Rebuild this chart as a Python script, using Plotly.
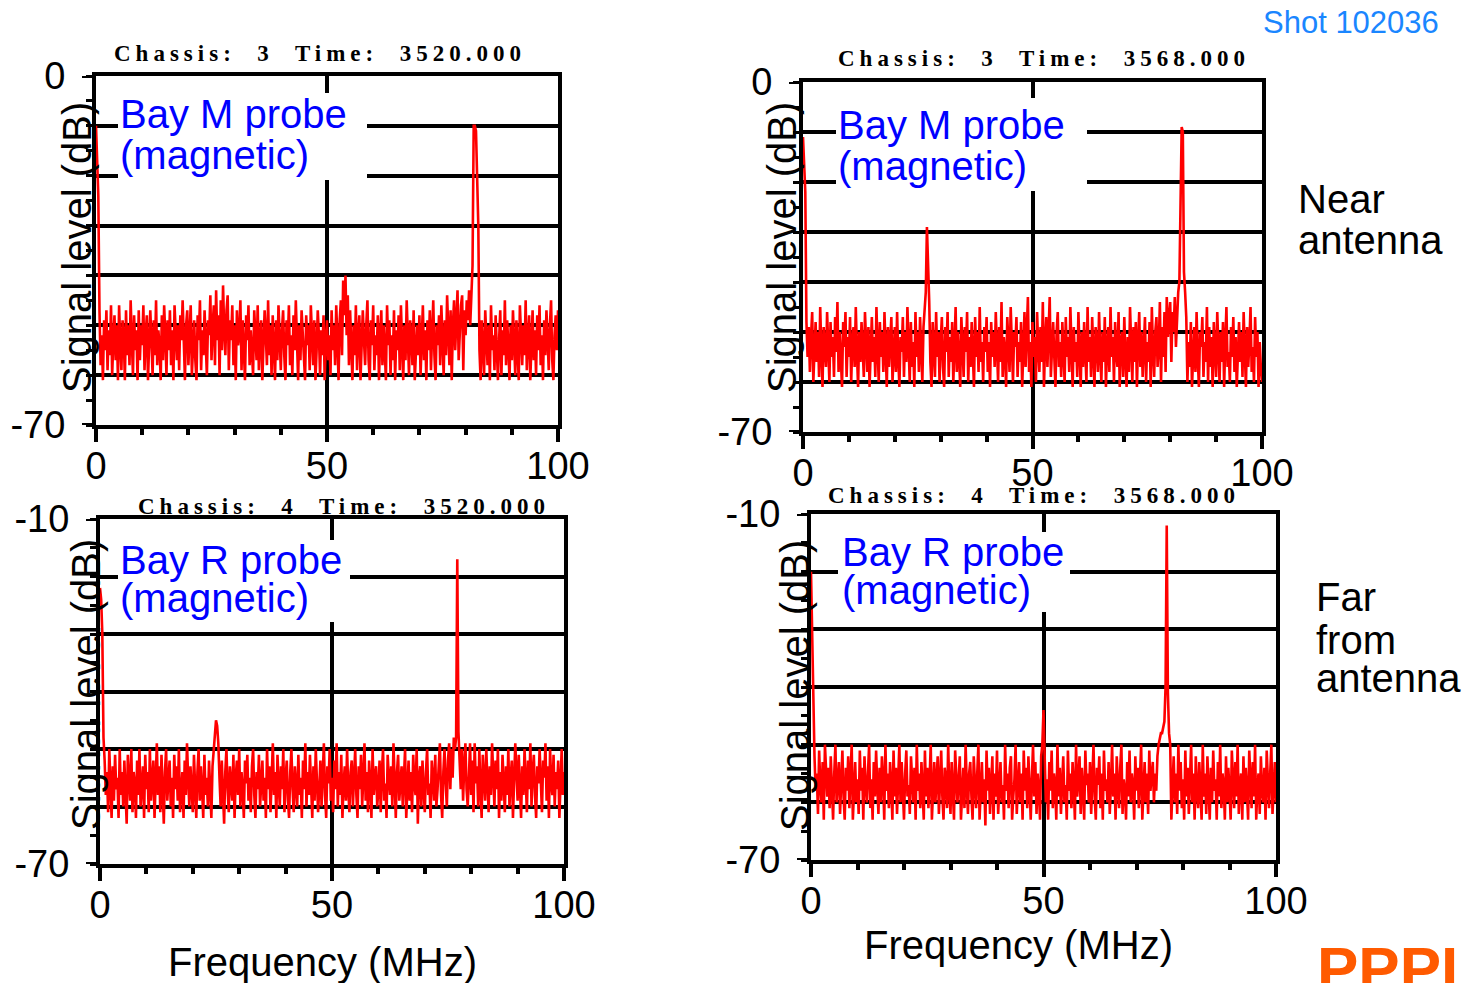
import plotly.graph_objects as go

W, H = 1467, 983

# ---------------- data ----------------
# Spectra sampled every 0.25 MHz from 0 to 100 MHz (401 points each), in dB.

# Chassis 3, time 3520 (Bay M probe)
bayM_3520_db = [
    -10, -18, -24, -47, -58, -52, -61, -49, -55, -47, -59, -51, -56, -46, -60, -53, -48, -57, -50, -61,
    -46, -54, -59, -49, -52, -61, -47, -56, -50, -58, -45, -53, -60, -48, -55, -51, -61, -47, -57, -50,
    -54, -46, -59, -52, -48, -61, -55, -47, -53, -60, -49, -56, -45, -58, -51, -54, -61, -48, -57, -46,
    -52, -60, -49, -55, -47, -58, -51, -61, -46, -54, -57, -50, -59, -48, -53, -45, -56, -61, -50, -47,
    -58, -52, -46, -60, -54, -49, -57, -61, -48, -53, -45, -59, -51, -56, -47, -55, -60, -49, -52, -44,
    -57, -50, -46, -58, -43, -53, -48, -60, -45, -55, -42, -51, -56, -47, -44, -59, -49, -53, -46, -58,
    -50, -61, -47, -54, -52, -45, -59, -49, -56, -61, -48, -53, -46, -58, -51, -55, -60, -47, -52, -57,
    -46, -59, -53, -49, -61, -55, -47, -52, -58, -45, -56, -50, -60, -48, -54, -61, -49, -57, -46, -53,
    -59, -51, -47, -56, -61, -49, -54, -46, -58, -52, -60, -48, -55, -45, -53, -61, -50, -57, -47, -52,
    -56, -61, -48, -54, -50, -59, -46, -53, -58, -49, -61, -55, -47, -52, -60, -51, -56, -48, -61, -53,
    -49, -57, -52, -60, -47, -55, -50, -58, -46, -53, -61, -49, -45, -56, -41, -48, -40, -52, -44, -58,
    -47, -54, -61, -50, -56, -46, -59, -52, -48, -61, -55, -47, -53, -58, -50, -45, -57, -61, -49, -54,
    -46, -59, -52, -56, -48, -61, -53, -47, -58, -50, -55, -61, -46, -54, -49, -60, -52, -57, -47, -61,
    -51, -55, -48, -59, -46, -53, -61, -50, -57, -45, -54, -60, -49, -52, -58, -47, -61, -55, -50, -56,
    -48, -60, -53, -46, -57, -51, -61, -49, -55, -47, -59, -52, -45, -56, -61, -50, -54, -48, -58, -46,
    -53, -60, -49, -56, -44, -52, -58, -47, -61, -50, -45, -55, -48, -43, -57, -51, -46, -44, -59, -47,
    -52, -45, -49, -43, -50, -44, -38, -10, -10, -11, -20, -30, -55, -61, -49, -56, -60, -47, -53, -58,
    -50, -61, -46, -55, -52, -59, -48, -57, -61, -53, -47, -60, -51, -56, -45, -58, -49, -54, -61, -50,
    -57, -47, -53, -60, -49, -55, -61, -46, -52, -58, -50, -56, -45, -59, -53, -48, -61, -54, -47, -57,
    -51, -60, -48, -55, -46, -58, -52, -61, -49, -56, -47, -53, -59, -50, -45, -57, -61, -52, -48, -55,
    -47,
]

# Chassis 3, time 3568 (Bay M probe)
bayM_3568_db = [
    -11, -18, -22, -48, -55, -49, -58, -51, -46, -60, -53, -48, -56, -50, -59, -45, -54, -61, -49, -52,
    -57, -46, -53, -60, -48, -55, -51, -59, -47, -54, -44, -58, -50, -56, -61, -48, -53, -46, -59, -51,
    -55, -47, -60, -52, -49, -57, -45, -54, -61, -50, -56, -48, -53, -59, -46, -52, -58, -49, -61, -54,
    -47, -56, -51, -59, -45, -53, -60, -48, -55, -50, -58, -46, -54, -61, -49, -57, -52, -47, -60, -53,
    -49, -58, -46, -55, -61, -51, -54, -47, -59, -50, -56, -45, -53, -60, -48, -57, -52, -61, -46, -55,
    -50, -58, -47, -54, -60, -49, -45, -42, -29, -35, -44, -56, -61, -48, -53, -59, -46, -55, -50, -60,
    -52, -47, -57, -61, -49, -54, -46, -59, -51, -56, -48, -60, -53, -45, -58, -50, -55, -61, -47, -52,
    -59, -49, -54, -46, -60, -51, -57, -48, -53, -61, -47, -55, -50, -58, -45, -56, -52, -60, -49, -54,
    -47, -58, -52, -61, -48, -55, -50, -57, -46, -53, -60, -49, -56, -44, -59, -51, -54, -61, -47, -52,
    -58, -45, -55, -60, -50, -53, -47, -59, -52, -56, -48, -61, -54, -46, -57, -50, -43, -58, -52, -61,
    -48, -55, -51, -60, -46, -53, -58, -49, -56, -44, -61, -52, -47, -57, -50, -43, -59, -54, -48, -55,
    -61, -50, -46, -57, -52, -59, -48, -54, -60, -47, -55, -51, -58, -45, -53, -61, -49, -56, -52, -59,
    -46, -54, -61, -50, -57, -48, -53, -60, -45, -56, -51, -59, -47, -55, -61, -49, -52, -58, -46, -54,
    -60, -50, -56, -47, -61, -53, -49, -58, -45, -55, -51, -60, -48, -54, -57, -46, -61, -52, -50, -59,
    -47, -55, -61, -51, -58, -45, -53, -60, -49, -56, -48, -61, -52, -46, -57, -50, -59, -54, -47, -60,
    -52, -56, -48, -61, -45, -54, -59, -50, -47, -57, -53, -44, -60, -49, -55, -46, -58, -43, -51, -47,
    -44, -56, -46, -50, -43, -53, -45, -42, -40, -25, -9, -10, -38, -42, -47, -60, -52, -57, -48, -61,
    -54, -49, -58, -46, -55, -61, -50, -53, -47, -59, -52, -56, -45, -60, -49, -57, -51, -61, -48, -54,
    -59, -46, -53, -60, -50, -56, -48, -61, -52, -45, -57, -54, -60, -49, -55, -47, -58, -51, -61, -53,
    -48, -56, -50, -59, -46, -54, -61, -49, -57, -52, -45, -58, -53, -60, -47, -55, -50, -61, -52, -57,
    -60,
]

# Chassis 4, time 3520 (Bay R probe)
bayR_3520_db = [
    -22, -24, -30, -48, -52, -58, -54, -61, -50, -56, -62, -53, -59, -51, -57, -55, -62, -50, -58, -54,
    -60, -52, -57, -63, -51, -55, -59, -50, -61, -54, -56, -62, -52, -58, -50, -60, -55, -53, -62, -51,
    -57, -54, -61, -50, -59, -56, -52, -62, -55, -49, -58, -53, -61, -51, -57, -63, -54, -50, -59, -56,
    -52, -60, -55, -62, -51, -57, -53, -59, -50, -61, -56, -54, -62, -52, -58, -49, -55, -60, -53, -57,
    -61, -51, -56, -62, -54, -50, -59, -53, -57, -62, -51, -58, -55, -60, -52, -56, -62, -53, -50, -47,
    -45, -46, -49, -55, -60, -52, -58, -63, -54, -50, -57, -61, -53, -56, -59, -51, -62, -55, -52, -58,
    -50, -60, -54, -57, -62, -52, -56, -51, -59, -55, -61, -53, -50, -58, -62, -54, -57, -51, -60, -56,
    -52, -59, -55, -62, -50, -57, -53, -61, -56, -49, -58, -54, -62, -51, -56, -60, -53, -57, -50, -61,
    -55, -52, -59, -62, -54, -50, -57, -61, -53, -56, -60, -51, -58, -55, -62, -52, -57, -49, -60, -54,
    -58, -51, -56, -62, -53, -59, -50, -55, -61, -57, -52, -60, -54, -49, -58, -62, -53, -56, -50, -59,
    -55, -61, -52, -57, -49, -60, -54, -58, -51, -62, -56, -53, -59, -50, -57, -61, -54, -52, -60, -56,
    -50, -58, -62, -53, -57, -51, -60, -55, -49, -59, -54, -61, -52, -56, -62, -50, -58, -55, -53, -60,
    -57, -52, -61, -54, -50, -59, -56, -62, -51, -55, -58, -53, -60, -49, -57, -62, -54, -51, -59, -56,
    -53, -60, -55, -50, -62, -57, -52, -59, -54, -61, -51, -56, -58, -50, -63, -55, -53, -60, -52, -57,
    -61, -54, -50, -58, -56, -62, -52, -55, -59, -51, -60, -57, -53, -49, -58, -62, -54, -50, -56, -60,
    -52, -49, -57, -50, -55, -48, -50, -48, -17, -47, -52, -57, -50, -59, -53, -49, -57, -60, -55, -49,
    -58, -52, -61, -49, -56, -53, -60, -50, -57, -62, -51, -55, -59, -50, -56, -61, -53, -58, -49, -55,
    -60, -52, -57, -50, -62, -54, -59, -51, -56, -61, -53, -58, -50, -60, -55, -52, -62, -57, -49, -54,
    -59, -51, -56, -62, -53, -58, -50, -55, -61, -52, -57, -49, -60, -54, -51, -58, -62, -53, -56, -50,
    -57, -61, -52, -55, -49, -59, -53, -62, -50, -56, -58, -51, -60, -54, -57, -52, -62, -55, -50, -58,
    -54,
]

# Chassis 4, time 3568 (Bay R probe)
bayR_3568_db = [
    -20, -30, -46, -52, -58, -55, -62, -51, -57, -60, -53, -63, -50, -56, -59, -54, -61, -52, -58, -63,
    -55, -50, -60, -57, -53, -62, -56, -51, -59, -63, -54, -58, -52, -61, -55, -50, -63, -57, -53, -60,
    -56, -62, -51, -58, -54, -63, -52, -57, -60, -55, -50, -61, -56, -63, -53, -59, -51, -57, -62, -54,
    -60, -52, -56, -63, -50, -58, -55, -61, -53, -57, -63, -51, -59, -54, -62, -56, -50, -60, -53, -58,
    -63, -55, -51, -59, -57, -62, -52, -56, -60, -54, -63, -50, -58, -55, -61, -53, -57, -63, -51, -59,
    -54, -61, -56, -50, -63, -58, -53, -60, -55, -52, -62, -57, -51, -59, -63, -54, -56, -61, -50, -58,
    -62, -53, -57, -63, -51, -55, -60, -56, -52, -63, -58, -54, -61, -50, -57, -62, -55, -53, -59, -63,
    -52, -58, -61, -55, -50, -63, -57, -53, -60, -56, -64, -51, -58, -54, -62, -57, -52, -63, -55, -59,
    -51, -62, -56, -53, -60, -57, -63, -50, -58, -55, -61, -54, -52, -63, -59, -56, -50, -62, -57, -53,
    -60, -55, -63, -51, -58, -54, -61, -52, -57, -63, -56, -50, -59, -53, -62, -55, -58, -63, -52, -50,
    -44, -52, -60, -56, -63, -53, -58, -51, -61, -55, -57, -63, -50, -59, -54, -62, -56, -52, -60, -57,
    -63, -51, -58, -55, -61, -53, -57, -63, -50, -59, -56, -52, -62, -54, -58, -63, -51, -57, -55, -60,
    -53, -62, -56, -50, -59, -63, -54, -57, -52, -61, -55, -63, -51, -58, -56, -60, -53, -62, -57, -50,
    -59, -55, -63, -52, -57, -61, -54, -50, -62, -56, -58, -63, -53, -59, -51, -60, -55, -57, -63, -52,
    -58, -54, -61, -56, -50, -63, -57, -53, -60, -55, -62, -51, -58, -56, -53, -60, -55, -58, -52, -50,
    -49, -48, -48, -47, -46, -40, -12, -41, -48, -50, -63, -57, -52, -60, -55, -62, -50, -58, -53, -61,
    -56, -63, -51, -59, -54, -62, -57, -50, -60, -55, -63, -52, -58, -61, -53, -57, -63, -50, -59, -55,
    -62, -52, -57, -63, -54, -60, -51, -58, -56, -63, -53, -59, -50, -61, -55, -57, -63, -52, -60, -54,
    -58, -63, -51, -56, -61, -53, -59, -50, -62, -57, -55, -63, -52, -60, -54, -58, -63, -51, -56, -61,
    -53, -59, -50, -63, -57, -55, -62, -52, -58, -60, -54, -63, -51, -57, -61, -55, -50, -62, -58, -53,
    -60,
]

series = [bayM_3520_db, bayM_3568_db, bayR_3520_db, bayR_3568_db]
chassis_titles = [
    "Chassis:  3  Time:  3520.000",
    "Chassis:  3  Time:  3568.000",
    "Chassis:  4  Time:  3520.000",
    "Chassis:  4  Time:  3568.000",
]
probe_names = ["Bay M probe", "Bay M probe", "Bay R probe", "Bay R probe"]
probe_kind = "(magnetic)"
y_ranges = [(-70, 0), (-70, 0), (-70, -10), (-70, -10)]
x_tick_vals = [0, 50, 100]
y_axis_title = "Signal level (dB)"
x_axis_title = "Frequency (MHz)"
F_MAX = 100  # MHz, end of the analyser sweep

# ---------------- layout (pixel geometry) ----------------
def fx(p):
    return p / W


def fy(p):
    return 1 - p / H


panels = [
    dict(box=(96, 76, 558, 425), title=(320, 53), probe=(118, 114, 155),
         white=(118, 93, 367, 180), ylab=(77, 248), xlab=None),
    dict(box=(803, 82, 1262, 432), title=(1044, 58), probe=(836, 125, 166),
         white=(836, 98, 1087, 191), ylab=(782, 248), xlab=None),
    dict(box=(100, 519, 564, 864), title=(344, 507), probe=(118, 560, 598),
         white=(118, 540, 350, 622), ylab=(86, 685), xlab=(322, 962)),
    dict(box=(811, 514, 1276, 860), title=(1034, 495), probe=(840, 552, 590),
         white=(838, 532, 1070, 612), ylab=(795, 686), xlab=(1018, 945)),
]

SANS = "Liberation Sans, Arial, sans-serif"
fig = go.Figure()
annotations = []
shapes = []
layout_axes = {}

for i, (p, ys, title, probe, yr) in enumerate(zip(panels, series, chassis_titles, probe_names, y_ranges)):
    n = "" if i == 0 else str(i + 1)
    l, t, r, b = p["box"]
    freq_mhz = [k * F_MAX / (len(ys) - 1) for k in range(len(ys))]
    fig.add_trace(go.Scatter(
        x=freq_mhz, y=ys, mode="lines",
        line=dict(color="#ff0000", width=2.6),
        xaxis="x" + n, yaxis="y" + n, showlegend=False, hoverinfo="skip",
    ))
    ytv = list(range(yr[0], yr[1] + 1, 10))
    ytt = [str(v) if v in (yr[0], yr[1]) else "" for v in ytv]
    layout_axes["xaxis" + n] = dict(
        domain=[fx(l), fx(r)], anchor="y" + n, range=[0, F_MAX], automargin=False,
        tickvals=x_tick_vals, ticktext=[str(v) for v in x_tick_vals],
        ticks="outside", ticklen=13, tickwidth=4, tickcolor="black",
        showline=True, linewidth=4, linecolor="black", mirror=True,
        showgrid=True, gridcolor="black", gridwidth=4, zeroline=False,
        tickfont=dict(family=SANS, size=38, color="black"),
        ticklabelstandoff=-9,
        minor=dict(dtick=10, tick0=0, ticks="outside", ticklen=6, tickwidth=4,
                   tickcolor="black", showgrid=False),
        fixedrange=True,
    )
    layout_axes["yaxis" + n] = dict(
        domain=[fy(b), fy(t)], anchor="x" + n, range=[yr[0], yr[1]], automargin=False,
        tickvals=ytv, ticktext=ytt,
        ticks="outside", ticklen=6, tickwidth=3, tickcolor="black",
        showline=True, linewidth=4, linecolor="black", mirror=True,
        showgrid=True, gridcolor="black", gridwidth=4, zeroline=False,
        tickfont=dict(family=SANS, size=38, color="black"),
        ticklabelstandoff=13,
        minor=dict(dtick=5, tick0=0, ticks="outside", ticklen=6, tickwidth=3,
                   tickcolor="black", showgrid=False),
        fixedrange=True,
    )
    # long end ticks at top / bottom of the y axis
    for v in (yr[0], yr[1]):
        shapes.append(dict(type="line", xref="x" + n + " domain", yref="y" + n,
                           x0=-14 / (r - l), x1=0, y0=v, y1=v,
                           line=dict(color="black", width=4), layer="above"))
    # white label background
    wx0, wy0, wx1, wy1 = p["white"]
    shapes.append(dict(type="rect", xref="paper", yref="paper",
                       x0=fx(wx0), x1=fx(wx1), y0=fy(wy1), y1=fy(wy0),
                       fillcolor="white", line=dict(width=0), layer="above"))
    px0, py1, py2 = p["probe"]
    annotations.append(dict(text=probe, x=fx(px0), y=fy(py1), xref="paper", yref="paper",
                            xanchor="left", yanchor="middle", showarrow=False,
                            font=dict(family=SANS, size=40, color="#0000ff")))
    annotations.append(dict(text=probe_kind, x=fx(px0), y=fy(py2), xref="paper", yref="paper",
                            xanchor="left", yanchor="middle", showarrow=False,
                            font=dict(family=SANS, size=40, color="#0000ff")))
    tx, ty = p["title"]
    annotations.append(dict(text='<span style="letter-spacing:5px">' + title + "</span>",
                            x=fx(tx), y=fy(ty), xref="paper", yref="paper",
                            xanchor="center", yanchor="middle", showarrow=False,
                            font=dict(family="Liberation Serif, DejaVu Serif, serif",
                                      size=23, color="black", weight="bold")))
    lx, ly = p["ylab"]
    annotations.append(dict(text=y_axis_title, x=fx(lx), y=fy(ly), xref="paper", yref="paper",
                            xanchor="center", yanchor="middle", textangle=-90, showarrow=False,
                            font=dict(family=SANS, size=40, color="black")))
    if p["xlab"]:
        qx, qy = p["xlab"]
        annotations.append(dict(text=x_axis_title, x=fx(qx), y=fy(qy), xref="paper", yref="paper",
                                xanchor="center", yanchor="middle", showarrow=False,
                                font=dict(family=SANS, size=40, color="black")))

# right-hand notes
side_notes = [
    ("Shot 102036", 1441, 23, "right", 31, "#1a86ff", "normal"),
    ("Near", 1296, 199, "left", 40, "black", "normal"),
    ("antenna", 1296, 240, "left", 40, "black", "normal"),
    ("Far", 1314, 597, "left", 40, "black", "normal"),
    ("from", 1314, 640, "left", 40, "black", "normal"),
    ("antenna", 1314, 678, "left", 40, "black", "normal"),
]
for txt, x, y, anc, size, col, wt in side_notes:
    annotations.append(dict(text=txt, x=fx(x), y=fy(y), xref="paper", yref="paper",
                            xanchor=anc, yanchor="middle", showarrow=False,
                            font=dict(family=SANS, size=size, color=col, weight=wt)))
annotations.append(dict(text="PPPI", x=fx(1460), y=fy(932), xref="paper", yref="paper",
                        xanchor="right", yanchor="top", showarrow=False,
                        font=dict(family=SANS, size=62, color="#ff5a00", weight="bold")))

fig.update_layout(
    width=W, height=H,
    margin=dict(l=0, r=0, t=0, b=0, autoexpand=False),
    paper_bgcolor="white", plot_bgcolor="white",
    showlegend=False,
    annotations=annotations,
    shapes=shapes,
    **layout_axes,
)

fig.write_html("out.html")
